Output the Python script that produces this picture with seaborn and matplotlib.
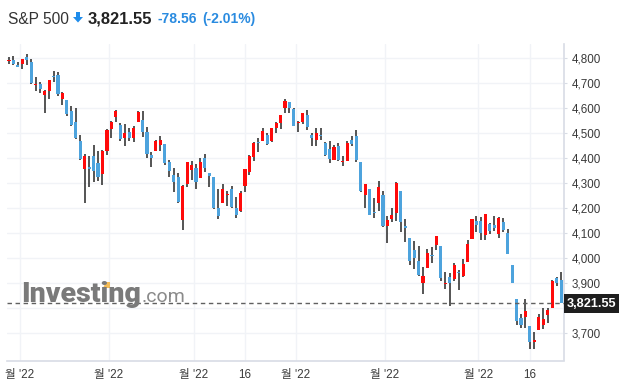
import numpy as np
import pandas as pd
import matplotlib
matplotlib.use("Agg")
import matplotlib.pyplot as plt
import matplotlib.transforms as mtransforms
from matplotlib.patches import Polygon, Rectangle
import seaborn as sns

# ---------------- data (S&P 500 daily candles) ----------------
start_date = "2021-12-29"
end_date = "2022-06-28"
market_holidays = ["2022-01-17", "2022-02-21", "2022-04-15", "2022-05-30", "2022-06-20"]

opens = [4788.64, 4794.23, 4775.21,
         4778.14, 4804.51, 4787.99, 4693.39, 4697.66, 4655.34, 4669.14, 4728.59, 4733.56, 4637.99,
         4632.24, 4588.03, 4547.35, 4471.38, 4356.32, 4366.64, 4408.43, 4380.58, 4336.19, 4431.79,
         4519.57, 4566.39, 4535.41, 4482.79, 4505.75, 4480.02, 4547.00, 4553.24, 4506.27, 4412.61,
         4429.28, 4455.75, 4456.06, 4384.57, 4332.74, 4324.93, 4155.77, 4298.38, 4354.17,
         4363.14, 4322.56, 4401.31, 4342.12, 4327.01, 4202.66, 4223.10, 4252.55, 4279.50, 4202.75,
         4188.82, 4288.14, 4345.11, 4407.34, 4462.40, 4469.10, 4493.10, 4469.98, 4522.91, 4541.09,
         4602.86, 4624.20, 4599.02,
         4540.32, 4547.97, 4572.45, 4494.17, 4474.65, 4494.15, 4462.64, 4437.59, 4394.30, 4449.12,
         4385.63, 4390.63, 4472.26, 4489.17, 4385.83, 4255.34, 4278.14, 4186.52, 4222.58, 4253.75,
         4130.61, 4159.78, 4181.18, 4270.43, 4128.17, 4081.27, 4035.18, 3990.08, 3903.95, 3963.90,
         4013.02, 4052.00, 4051.98, 3899.00, 3927.76, 3919.42, 3942.94, 3929.59, 3984.60, 4077.43,
         4151.09,
         4149.78, 4095.41, 4137.57, 4134.72, 4096.47, 4147.12, 4101.65, 3974.39, 3838.15, 3763.52,
         3764.05, 3728.18, 3665.90, 3715.31, 3733.89, 3774.71, 3803.47, 3920.76, 3913.00]
highs = [4804.06, 4808.93, 4786.83,
         4796.64, 4818.62, 4797.70, 4725.01, 4707.95, 4673.02, 4714.13, 4748.83, 4744.13, 4665.13,
         4632.24, 4611.55, 4602.11, 4494.52, 4417.35, 4411.01, 4453.23, 4428.74, 4432.72, 4516.89,
         4550.49, 4595.31, 4542.88, 4539.66, 4521.86, 4531.32, 4590.03, 4588.92, 4526.33, 4426.22,
         4472.77, 4489.55, 4456.06, 4394.60, 4362.12, 4341.51, 4294.73, 4385.34, 4388.84,
         4378.45, 4401.48, 4416.78, 4342.12, 4327.01, 4276.94, 4299.40, 4268.28, 4291.01, 4247.57,
         4271.05, 4357.86, 4412.67, 4465.40, 4481.75, 4522.00, 4501.07, 4520.58, 4546.03, 4575.65,
         4637.30, 4627.77, 4603.07,
         4548.70, 4583.50, 4593.45, 4503.94, 4521.16, 4520.41, 4464.35, 4471.00, 4453.92, 4460.46,
         4410.31, 4471.03, 4488.29, 4512.94, 4385.83, 4299.02, 4278.14, 4240.71, 4308.45, 4269.68,
         4169.81, 4200.10, 4307.66, 4270.43, 4157.69, 4081.27, 4068.82, 4049.09, 3964.80, 4038.88,
         4046.46, 4090.72, 4051.98, 3945.96, 3943.42, 3981.88, 3955.68, 3999.33, 4075.14, 4158.49,
         4168.34,
         4166.54, 4177.51, 4142.67, 4168.78, 4164.86, 4160.14, 4119.10, 3974.39, 3838.15, 3778.18,
         3837.56, 3728.18, 3707.71, 3779.65, 3801.79, 3802.58, 3913.65, 3927.72, 3945.86]
lows = [4778.08, 4775.33, 4765.75,
        4758.17, 4774.27, 4699.44, 4671.26, 4662.74, 4582.24, 4638.27, 4706.71, 4650.29, 4614.75,
        4568.70, 4530.20, 4477.95, 4395.34, 4222.62, 4287.11, 4304.80, 4309.50, 4292.46, 4414.02,
        4483.53, 4544.32, 4470.39, 4451.50, 4471.47, 4465.40, 4547.00, 4484.31, 4401.41, 4364.84,
        4429.28, 4429.68, 4373.81, 4327.22, 4267.11, 4221.51, 4114.65, 4286.83, 4315.12,
        4279.54, 4322.56, 4345.56, 4284.98, 4199.85, 4157.87, 4223.10, 4209.80, 4200.49, 4161.72,
        4187.90, 4267.92, 4335.65, 4390.57, 4424.30, 4469.10, 4455.81, 4465.17, 4501.07, 4517.69,
        4581.18, 4581.32, 4530.41,
        4507.57, 4539.21, 4514.17, 4450.04, 4450.30, 4474.60, 4408.38, 4381.34, 4392.70, 4390.77,
        4370.30, 4390.63, 4448.76, 4384.47, 4267.62, 4200.82, 4175.04, 4162.90, 4188.63, 4124.28,
        4062.51, 4147.08, 4148.91, 4106.01, 4067.91, 3975.48, 3958.17, 3928.82, 3858.87, 3963.90,
        3983.99, 4033.93, 3911.91, 3876.58, 3810.32, 3909.04, 3875.13, 3925.03, 3984.60, 4077.43,
        4104.88,
        4073.85, 4074.37, 4098.67, 4109.18, 4080.19, 4107.20, 4017.17, 3900.16, 3734.30, 3722.30,
        3722.30, 3639.77, 3636.87, 3715.31, 3717.69, 3743.52, 3803.47, 3889.66, 3820.14]
closes = [4793.06, 4778.73, 4766.18,
          4796.56, 4793.54, 4700.58, 4696.05, 4677.03, 4670.29, 4713.07, 4726.35, 4659.03, 4662.85,
          4577.11, 4532.76, 4482.73, 4397.94, 4410.13, 4356.45, 4349.93, 4326.51, 4431.85, 4515.55,
          4546.54, 4589.38, 4477.44, 4500.53, 4483.87, 4521.54, 4587.18, 4504.08, 4418.64, 4401.67,
          4471.07, 4475.01, 4380.26, 4348.87, 4304.76, 4225.50, 4288.70, 4384.65, 4373.94,
          4306.26, 4386.54, 4363.49, 4328.87, 4201.09, 4170.70, 4277.88, 4259.52, 4204.31, 4173.11,
          4262.45, 4357.86, 4411.67, 4463.12, 4461.18, 4511.61, 4456.24, 4520.16, 4543.06, 4575.52,
          4631.60, 4602.45, 4530.41,
          4545.86, 4582.64, 4525.12, 4481.15, 4500.21, 4488.28, 4412.53, 4397.45, 4446.59, 4392.59,
          4391.69, 4462.21, 4459.45, 4393.66, 4271.78, 4296.12, 4175.20, 4183.96, 4287.50, 4131.93,
          4155.38, 4175.48, 4300.17, 4146.87, 4123.34, 3991.24, 4001.05, 3935.18, 3930.08, 4023.89,
          4008.01, 4088.85, 3923.68, 3900.79, 3901.36, 3973.75, 3941.48, 3978.73, 4057.84, 4158.24,
          4132.15,
          4101.23, 4176.82, 4108.54, 4121.43, 4160.68, 4115.77, 4017.82, 3900.86, 3749.63, 3735.48,
          3789.99, 3666.77, 3674.84, 3764.79, 3759.89, 3795.73, 3911.74, 3900.11, 3821.55]

tick_dates = ["2022-01-03", "2022-02-01", "2022-03-01", "2022-03-16",
              "2022-04-01", "2022-05-02", "2022-06-01", "2022-06-16"]
tick_labels = ["월 '22", "월 '22", "월 '22", "16", "월 '22", "월 '22", "월 '22", "16"]
y_ticks = [3700, 3800, 3900, 4000, 4100, 4200, 4300, 4400, 4500, 4600, 4700, 4800]
hidden_y_label = 3800  # covered by the last-price box in the reference

title_name = "S&P 500"
title_price = "3,821.55"
title_change = "-78.56"
title_pct = "(-2.01%)"

# ---------------- build frame ----------------
dates = pd.bdate_range(start_date, end_date)
dates = dates[~dates.isin(pd.to_datetime(market_holidays))]
df = pd.DataFrame({"date": dates, "open": opens, "high": highs, "low": lows, "close": closes})
df["x"] = np.arange(len(df))
df["up"] = df["close"] >= df["open"]

# ---------------- style ----------------
sns.set_style("white")
plt.rcParams["font.family"] = ["Liberation Sans", "Noto Sans CJK KR", "DejaVu Sans"]

W, H = 624, 392
fig = plt.figure(figsize=(W / 100, H / 100), dpi=100)
ax_l, ax_r, ax_b, ax_t = 7, 564, 360.5, 44
ax = fig.add_axes([ax_l / W, 1 - ax_b / H, (ax_r - ax_l) / W, (ax_b - ax_t) / H])

RED = "#ff0a0a"
BLUE = "#4da3dd"
WICK = "#262626"
GRID = "#f1f3f7"
AXC = "#d8dce5"

# grid lines
for yv in y_ticks:
    ax.axhline(yv, color=GRID, lw=1.0, zorder=0)

date_idx = {d: i for i, d in enumerate(df["date"].dt.strftime("%Y-%m-%d"))}
tick_pos = []
for d, lab in zip(tick_dates, tick_labels):
    off = -0.55 if lab != "16" else 0.0
    tick_pos.append(date_idx[d] + off)
for xv in tick_pos:
    ax.axvline(xv, color=GRID, lw=1.0, zorder=0)

# watermark (behind candles)
fig.text(21 / W, 1 - 302.5 / H, "Investing", fontsize=20.5, fontweight="heavy", color="#7a7a7a",
         family=["Roboto", "DejaVu Sans"], ha="left", va="baseline", zorder=1)
fig.text(142 / W, 1 - 302.5 / H, ".com", fontsize=14, color="#8a8a8a",
         family=["Roboto", "DejaVu Sans"], ha="left", va="baseline", zorder=1)
fig.patches.append(Polygon([[103 / W, 1 - 288 / H], [110 / W, 1 - 288 / H], [110 / W, 1 - 282 / H],
                            [106 / W, 1 - 282 / H]], closed=True, transform=fig.transFigure,
                           facecolor="#f5bd58", edgecolor="none"))

# wicks
ax.vlines(df["x"], df["low"], df["high"], color=WICK, lw=1.1, zorder=2)
# bodies
body_bottom = np.minimum(df["open"], df["close"])
body_h = np.maximum(np.abs(df["close"] - df["open"]), 4.0)
ax.bar(df["x"], body_h, bottom=body_bottom, width=0.7,
       color=np.where(df["up"], RED, BLUE), linewidth=0, zorder=3)

# last price dashed line
last = df["close"].iloc[-1]
ax.axhline(last, color="#606060", lw=1.0, dashes=(3.2, 2.6), zorder=4)

ax.set_xlim(-0.45, len(df) - 1 + 0.66)
ax.set_ylim(3592, 4858)

ax.yaxis.tick_right()
ax.set_yticks(y_ticks)
ax.set_yticklabels(["" if v == hidden_y_label else f"{v:,}" for v in y_ticks])
ax.set_xticks(tick_pos)
ax.set_xticklabels(tick_labels)
ax.tick_params(axis="y", length=2, width=0.8, color=AXC, pad=3.5, labelsize=8.4, labelcolor="#3a3a3a")
ax.tick_params(axis="x", length=3.5, width=0.8, color=AXC, pad=2.5, labelsize=8.4, labelcolor="#3a3a3a")

for s in ["top", "left"]:
    ax.spines[s].set_visible(False)
for s in ["right", "bottom"]:
    ax.spines[s].set_visible(True)
    ax.spines[s].set_color(AXC)
    ax.spines[s].set_linewidth(1.2)

# last price label box on right axis
blend = mtransforms.blended_transform_factory(ax.transAxes, ax.transData)
ax_w = ax_r - ax_l
box = Rectangle((1.0, last - 38), 55 / ax_w, 76, transform=blend, facecolor="#1e1e1e",
                edgecolor="none", clip_on=False, zorder=10)
ax.add_patch(box)
ax.text(1.0 + 27.5 / ax_w, last - 2, f"{last:,.2f}", transform=blend, ha="center", va="center",
        color="white", fontsize=9.2, fontweight="bold", zorder=11, clip_on=False)

# header
fig.text(8 / W, 1 - 23.5 / H, title_name, fontsize=11.2, color="#333333", ha="left", va="baseline")
fig.patches.append(Polygon([[76 / W, 1 - 12 / H], [80 / W, 1 - 12 / H], [80 / W, 1 - 17 / H],
                            [83 / W, 1 - 17 / H], [78 / W, 1 - 22.5 / H], [73 / W, 1 - 17 / H],
                            [76 / W, 1 - 17 / H]], closed=True, transform=fig.transFigure,
                           facecolor="#1f8ceb", edgecolor="none"))
fig.text(88 / W, 1 - 23.5 / H, title_price, fontsize=11.9, fontweight="bold", color="#222222",
         ha="left", va="baseline")
fig.text(158 / W, 1 - 23 / H, title_change, fontsize=10, fontweight="bold", color="#2a8be0",
         ha="left", va="baseline")
fig.text(202 / W, 1 - 23 / H, title_pct, fontsize=10, fontweight="bold", color="#2a8be0",
         ha="left", va="baseline")

fig.savefig("out.png", dpi=100, facecolor="white")
